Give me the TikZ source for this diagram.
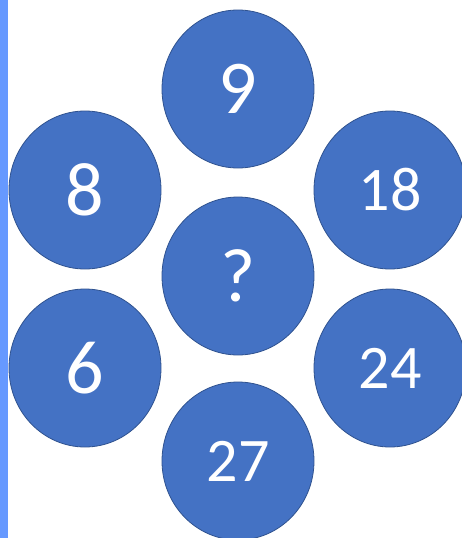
\documentclass[tikz,border=0pt]{standalone}
\usepackage{fontspec}
\setmainfont{Carlito}
\usetikzlibrary{shapes.geometric}
\definecolor{discblue}{HTML}{4472C4}
\definecolor{discedge}{HTML}{2F528F}
\definecolor{stripblue}{HTML}{6699FF}
\begin{document}
\begin{tikzpicture}[x=1pt,y=-1pt,
  disc/.style={ellipse, fill=discblue, draw=discedge, line width=0.8pt,
    minimum width=152pt, minimum height=158pt, inner sep=0pt,
    text=white, font=\fontsize{76}{80}\selectfont},
  discwide/.style={disc, font=\fontsize{62}{66}\selectfont}]
\useasboundingbox (0,0) rectangle (461,538);
\fill[white] (0,0) rectangle (461,538);
\fill[stripblue] (0,0) rectangle (8,538);
\node[disc] (n9) at (238,89) {9};
\node[disc] (n8) at (85,190) {8};
\node[discwide] (n18) at (390,190) {18};
\node[disc] (nq) at (238,276) {?};
\node[disc] (n6) at (85,368) {6};
\node[discwide] (n24) at (390,368) {24};
\node[discwide] (n27) at (238,461) {27};
\end{tikzpicture}
\end{document}
